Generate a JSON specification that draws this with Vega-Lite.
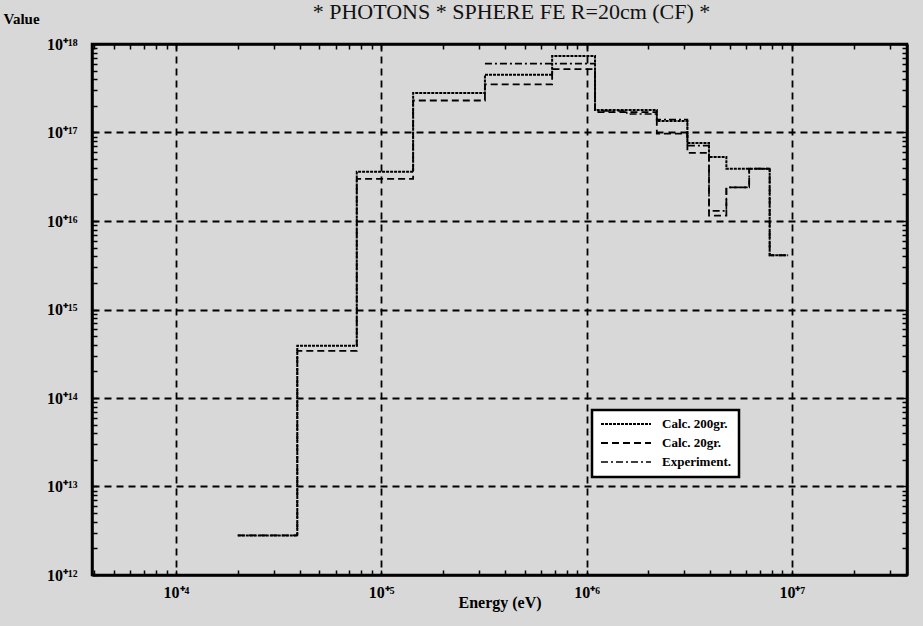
{
  "$schema": "https://vega.github.io/schema/vega-lite/v6.json",
  "width": 815,
  "height": 531,
  "autosize": {"type": "none"},
  "padding": {"left": 92, "top": 44, "right": 16, "bottom": 51},
  "background": "#d8d8d8",
  "title": {
    "text": "* PHOTONS * SPHERE FE R=20cm (CF) *",
    "font": "Liberation Serif",
    "fontSize": 22,
    "fontWeight": "normal",
    "color": "#111",
    "anchor": "middle",
    "frame": "group",
    "baseline": "bottom",
    "dx": 12,
    "offset": -35
  },
  "config": {
    "view": {"stroke": "black", "strokeWidth": 2.5, "fill": null},
    "axis": {
      "labelFont": "Liberation Serif",
      "labelFontWeight": "bold",
      "labelFontSize": 16,
      "labelColor": "black",
      "titleFont": "Liberation Serif",
      "titleFontWeight": "bold",
      "titleColor": "black",
      "domainColor": "black",
      "domainWidth": 2.5,
      "ticks": true,
      "tickColor": "black",
      "tickWidth": 1.5,
      "tickSize": -5
    }
  },
  "datasets": {
    "spectra": [
      {"series": "Calc. 200gr.", "E": 20000, "V": 2.8e12},
      {"series": "Calc. 200gr.", "E": 39000, "V": 3.9e14},
      {"series": "Calc. 200gr.", "E": 76000, "V": 3.6e16},
      {"series": "Calc. 200gr.", "E": 143000, "V": 2.8e17},
      {"series": "Calc. 200gr.", "E": 320000, "V": 4.5e17},
      {"series": "Calc. 200gr.", "E": 680000, "V": 7.3e17},
      {"series": "Calc. 200gr.", "E": 1100000, "V": 1.8e17},
      {"series": "Calc. 200gr.", "E": 2200000, "V": 1.35e17},
      {"series": "Calc. 200gr.", "E": 3100000, "V": 7.6e16},
      {"series": "Calc. 200gr.", "E": 3950000, "V": 5.3e16},
      {"series": "Calc. 200gr.", "E": 4800000, "V": 3.9e16},
      {"series": "Calc. 200gr.", "E": 7800000, "V": 4.1e15},
      {"series": "Calc. 200gr.", "E": 9600000, "V": 4.1e15},

      {"series": "Calc. 20gr.", "E": 20000, "V": 2.8e12},
      {"series": "Calc. 20gr.", "E": 39000, "V": 3.4e14},
      {"series": "Calc. 20gr.", "E": 76000, "V": 3.0e16},
      {"series": "Calc. 20gr.", "E": 143000, "V": 2.3e17},
      {"series": "Calc. 20gr.", "E": 320000, "V": 3.5e17},
      {"series": "Calc. 20gr.", "E": 680000, "V": 5.2e17},
      {"series": "Calc. 20gr.", "E": 1100000, "V": 1.7e17},
      {"series": "Calc. 20gr.", "E": 2200000, "V": 9.7e16},
      {"series": "Calc. 20gr.", "E": 3100000, "V": 5.9e16},
      {"series": "Calc. 20gr.", "E": 3950000, "V": 1.15e16},
      {"series": "Calc. 20gr.", "E": 4800000, "V": 2.4e16},
      {"series": "Calc. 20gr.", "E": 6200000, "V": 3.9e16},
      {"series": "Calc. 20gr.", "E": 7800000, "V": 4.1e15},
      {"series": "Calc. 20gr.", "E": 9600000, "V": 4.1e15},

      {"series": "Experiment.", "E": 320000, "V": 6.0e17},
      {"series": "Experiment.", "E": 680000, "V": 6.0e17},
      {"series": "Experiment.", "E": 1100000, "V": 1.75e17},
      {"series": "Experiment.", "E": 1570000, "V": 1.62e17},
      {"series": "Experiment.", "E": 2200000, "V": 1.4e17},
      {"series": "Experiment.", "E": 3100000, "V": 7.1e16},
      {"series": "Experiment.", "E": 3950000, "V": 1.3e16},
      {"series": "Experiment.", "E": 4800000, "V": 2.4e16},
      {"series": "Experiment.", "E": 6200000, "V": 3.9e16},
      {"series": "Experiment.", "E": 7800000, "V": 3.9e16}
    ]
  },
  "data": {"name": "spectra"},
  "layer": [
    {
      "mark": {"type": "line", "interpolate": "step-after", "color": "black", "clip": true},
      "encoding": {
        "x": {
          "field": "E",
          "type": "quantitative",
          "scale": {"type": "log", "domain": [3900, 36400000], "nice": false},
          "axis": {
            "orient": "bottom",
            "title": "Energy (eV)",
            "titleFontSize": 16,
            "titlePadding": -6,
            "values": [4000, 5000, 6000, 7000, 8000, 9000,
                       10000, 20000, 30000, 40000, 50000, 60000, 70000, 80000, 90000,
                       100000, 200000, 300000, 400000, 500000, 600000, 700000, 800000, 900000,
                       1000000, 2000000, 3000000, 4000000, 5000000, 6000000, 7000000, 8000000, 9000000,
                       10000000, 20000000, 30000000],
            "labelExpr": "datum.value == 10000 ? '10⁺⁴' : datum.value == 100000 ? '10⁺⁵' : datum.value == 1000000 ? '10⁺⁶' : datum.value == 10000000 ? '10⁺⁷' : ''",
            "labelPadding": 14,
            "labelOverlap": false,
            "tickSize": -5,
            "grid": true,
            "gridColor": "black",
            "gridDash": [7, 5],
            "gridWidth": 1.8,
            "gridOpacity": {"condition": {"test": "abs(log(datum.value)/LN10 - round(log(datum.value)/LN10)) < 0.001", "value": 1}, "value": 0}
          }
        },
        "y": {
          "field": "V",
          "type": "quantitative",
          "scale": {"type": "log", "domain": [1e12, 1e18], "nice": false},
          "axis": {
            "orient": "left",
            "title": "Value",
            "titleFontSize": 15,
            "titleAngle": 0,
            "titleAlign": "left",
            "titleBaseline": "middle",
            "titleX": -89,
            "titleY": -26,
            "values": [1e12, 2e12, 3e12, 4e12, 5e12, 6e12, 7e12, 8e12, 9e12,
                       1e13, 2e13, 3e13, 4e13, 5e13, 6e13, 7e13, 8e13, 9e13,
                       1e14, 2e14, 3e14, 4e14, 5e14, 6e14, 7e14, 8e14, 9e14,
                       1e15, 2e15, 3e15, 4e15, 5e15, 6e15, 7e15, 8e15, 9e15,
                       1e16, 2e16, 3e16, 4e16, 5e16, 6e16, 7e16, 8e16, 9e16,
                       1e17, 2e17, 3e17, 4e17, 5e17, 6e17, 7e17, 8e17, 9e17, 1e18],
            "labelExpr": "datum.value == 1e12 ? '10⁺¹²' : datum.value == 1e13 ? '10⁺¹³' : datum.value == 1e14 ? '10⁺¹⁴' : datum.value == 1e15 ? '10⁺¹⁵' : datum.value == 1e16 ? '10⁺¹⁶' : datum.value == 1e17 ? '10⁺¹⁷' : datum.value == 1e18 ? '10⁺¹⁸' : ''",
            "labelPadding": 20,
            "labelOverlap": false,
            "tickSize": -5,
            "grid": true,
            "gridColor": "black",
            "gridDash": [7, 5],
            "gridWidth": 1.8,
            "gridOpacity": {"condition": {"test": "abs(log(datum.value)/LN10 - round(log(datum.value)/LN10)) < 0.001 && datum.value > 1.5e12 && datum.value < 5e17", "value": 1}, "value": 0}
          }
        },
        "strokeDash": {
          "field": "series",
          "type": "nominal",
          "sort": ["Calc. 200gr.", "Calc. 20gr.", "Experiment."],
          "scale": {
            "domain": ["Calc. 200gr.", "Calc. 20gr.", "Experiment."],
            "range": [[3, 1], [7, 4], [7, 3, 2, 3]]
          },
          "legend": {
            "title": null,
            "orient": "none",
            "legendX": 500,
            "legendY": 366,
            "direction": "vertical",
            "fillColor": "white",
            "strokeColor": "black",
            "padding": 8,
            "symbolType": "stroke",
            "symbolSize": 2500,
            "clipHeight": 12,
            "symbolStrokeColor": "black",
            "symbolStrokeWidth": 1.5,
            "labelFont": "Liberation Serif",
            "labelFontWeight": "bold",
            "labelFontSize": 13,
            "labelColor": "black",
            "labelOffset": 10,
            "rowPadding": 6,
            "labelLimit": 300,
            "encode": {"legend": {"update": {"strokeWidth": {"value": 2.5}}}}
          }
        },
        "strokeWidth": {
          "field": "series",
          "type": "nominal",
          "scale": {"domain": ["Calc. 200gr.", "Calc. 20gr.", "Experiment."], "range": [2, 1.6, 1.6]},
          "legend": null
        }
      }
    },
    {
      "mark": {"type": "line", "opacity": 0},
      "encoding": {
        "x": {
          "field": "E",
          "type": "quantitative",
          "axis": {
            "orient": "top",
            "title": null,
            "labels": false,
            "values": [4000, 5000, 6000, 7000, 8000, 9000,
                       10000, 20000, 30000, 40000, 50000, 60000, 70000, 80000, 90000,
                       100000, 200000, 300000, 400000, 500000, 600000, 700000, 800000, 900000,
                       1000000, 2000000, 3000000, 4000000, 5000000, 6000000, 7000000, 8000000, 9000000,
                       10000000, 20000000, 30000000],
            "tickSize": -5,
            "grid": false
          }
        },
        "y": {
          "field": "V",
          "type": "quantitative",
          "axis": {
            "orient": "right",
            "title": null,
            "labels": false,
            "values": [1e12, 2e12, 3e12, 4e12, 5e12, 6e12, 7e12, 8e12, 9e12,
                       1e13, 2e13, 3e13, 4e13, 5e13, 6e13, 7e13, 8e13, 9e13,
                       1e14, 2e14, 3e14, 4e14, 5e14, 6e14, 7e14, 8e14, 9e14,
                       1e15, 2e15, 3e15, 4e15, 5e15, 6e15, 7e15, 8e15, 9e15,
                       1e16, 2e16, 3e16, 4e16, 5e16, 6e16, 7e16, 8e16, 9e16,
                       1e17, 2e17, 3e17, 4e17, 5e17, 6e17, 7e17, 8e17, 9e17, 1e18],
            "tickSize": -5,
            "grid": false
          }
        },
        "detail": {"field": "series"}
      }
    }
  ],
  "resolve": {"axis": {"x": "independent", "y": "independent"}}
}
